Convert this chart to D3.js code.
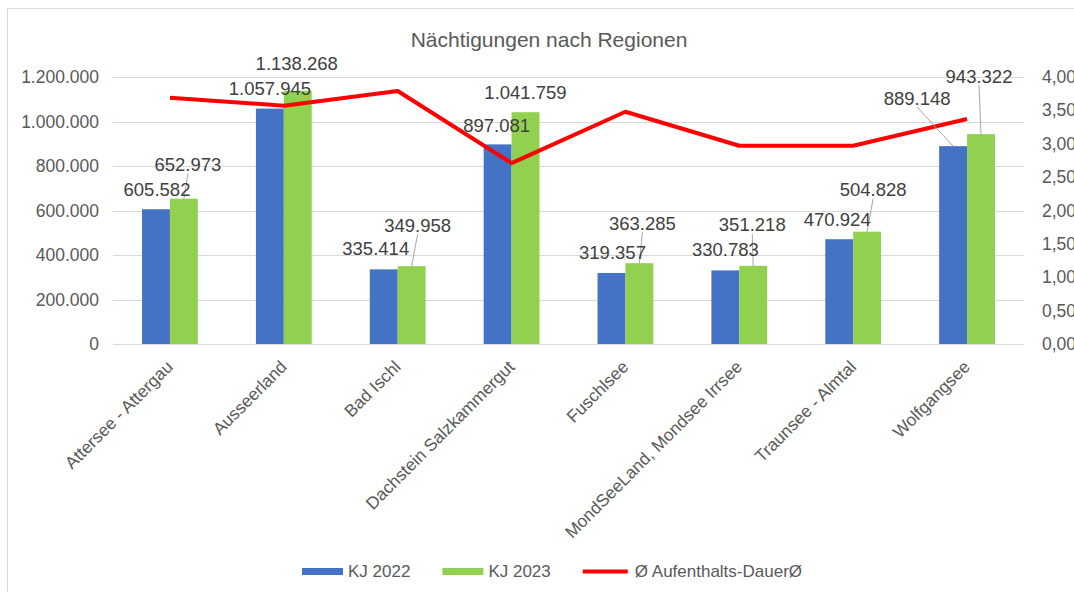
<!DOCTYPE html>
<html>
<head>
<meta charset="utf-8">
<script src="https://cdn.jsdelivr.net/npm/d3@7"></script>
<style>
  body { margin: 0; background: #fff; }
  text { font-family: "Liberation Sans", Arial, sans-serif; }
</style>
</head>
<body>
<svg id="chart" width="1074" height="592"></svg>
<script>
// data
var regions = ["Attersee - Attergau", "Ausseerland", "Bad Ischl", "Dachstein Salzkammergut",
               "Fuschlsee", "MondSeeLand, Mondsee Irrsee", "Traunsee - Almtal", "Wolfgangsee"];
var kj2022 = [605582, 1057945, 335414, 897081, 319357, 330783, 470924, 889148];
var kj2023 = [652973, 1138268, 349958, 1041759, 363285, 351218, 504828, 943322];
var dauer  = [3.69, 3.57, 3.79, 2.71, 3.48, 2.97, 2.97, 3.37];
var leftTicks  = [0, 200000, 400000, 600000, 800000, 1000000, 1200000];
var rightTicks = [0, 0.5, 1, 1.5, 2, 2.5, 3, 3.5, 4];
var seriesNames = ["KJ 2022", "KJ 2023", "Ø Aufenthalts-DauerØ"];

// label offsets from bar top (moved labels, like in excel)
var off2022 = [[1,-20],[0,-20],[-8,-21],[-1,-19],[1,-20],[0,-21],[-2,-20],[-36,-48]];
var off2023 = [[4,-34],[-1,-27],[6,-41],[0,-20],[3,-40],[-1,-41],[6,-42],[-2,-58]];

var blue = "#4472C4", green = "#92D050", red = "#FF0000";
var grid = "#d9d9d9", txt = "#595959";

var de = d3.formatLocale({decimal: ",", thousands: ".", grouping: [3], currency: ["", "€"]});
var fmtInt = de.format(",.0f");
var fmtDec = de.format(",.2f");

var svg = d3.select("#chart");

// outer frame
svg.append("rect").attr("x", 7.5).attr("y", 8.5).attr("width", 1100).attr("height", 600)
  .attr("fill", "#fff").attr("stroke", grid);

var pLeft = 113, pRight = 1024, pTop = 77, pBottom = 344;

var x0 = d3.scaleBand().domain(regions).range([pLeft, pRight]).paddingInner(0.51).paddingOuter(0.255);
var x1 = d3.scaleBand().domain([0, 1]).range([0, x0.bandwidth()]);
var y = d3.scaleLinear().domain([0, 1200000]).range([pBottom, pTop]);
var y2 = d3.scaleLinear().domain([0, 4]).range([pBottom, pTop]);

svg.append("text").attr("x", 549).attr("y", 47).attr("text-anchor", "middle")
  .attr("font-size", 21).attr("fill", txt).text("Nächtigungen nach Regionen");

// gridlines
svg.append("g").selectAll("line").data(leftTicks).enter().append("line")
  .attr("x1", pLeft).attr("x2", pRight)
  .attr("y1", function(d) { return Math.round(y(d)) + 0.5; })
  .attr("y2", function(d) { return Math.round(y(d)) + 0.5; })
  .attr("stroke", grid).attr("stroke-width", 1);

// left axis
var gl = svg.append("g").attr("transform", "translate(" + (pLeft - 14) + ",0)")
  .call(d3.axisLeft(y).tickValues(leftTicks).tickFormat(fmtInt).tickSize(0).tickPadding(0));
gl.select(".domain").remove();
gl.selectAll("text").attr("font-size", 17.5).attr("fill", txt).attr("font-family", null);

// right axis
var gr = svg.append("g").attr("transform", "translate(1042,0)")
  .call(d3.axisRight(y2).tickValues(rightTicks).tickFormat(fmtDec).tickSize(0).tickPadding(0));
gr.select(".domain").remove();
gr.selectAll("text").attr("font-size", 17.5).attr("fill", txt).attr("font-family", null);

// x axis labels
var gx = svg.append("g");
gx.selectAll("text").data(regions).enter().append("text")
  .attr("transform", function(d) { return "translate(" + (x0(d) + x0.bandwidth() / 2 + 4) + ",368) rotate(-45)"; })
  .attr("text-anchor", "end").attr("font-size", 17.3).attr("fill", txt)
  .text(function(d) { return d; });

// bars
var rows = regions.map(function(r, i) { return {region: r, vals: [kj2022[i], kj2023[i]], i: i}; });
var groups = svg.append("g").selectAll("g").data(rows).enter().append("g")
  .attr("transform", function(d) { return "translate(" + x0(d.region) + ",0)"; });
groups.selectAll("rect").data(function(d) { return d.vals.map(function(v, k) { return {k: k, v: v}; }); })
  .enter().append("rect")
  .attr("x", function(d) { return x1(d.k); })
  .attr("y", function(d) { return y(d.v); })
  .attr("width", x1.bandwidth())
  .attr("height", function(d) { return pBottom - y(d.v); })
  .attr("fill", function(d) { return d.k == 0 ? blue : green; });

// line
var line = d3.line()
  .x(function(d, i) { return x0(regions[i]) + x0.bandwidth() / 2; })
  .y(function(d) { return y2(d); });
svg.append("path").datum(dauer).attr("d", line).attr("fill", "none")
  .attr("stroke", red).attr("stroke-width", 4).attr("stroke-linejoin", "round");

// data labels + leader lines
var labels = [];
rows.forEach(function(r) {
  [kj2022, kj2023].forEach(function(ser, k) {
    var o = (k == 0 ? off2022 : off2023)[r.i];
    var bx = x0(r.region) + x1(k) + x1.bandwidth() / 2, by = y(ser[r.i]);
    labels.push({v: ser[r.i], bx: bx, by: by, lx: bx + o[0], ly: by + o[1]});
  });
});
var lg = svg.append("g");
lg.selectAll("line").data(labels.filter(function(d) { return d.by - d.ly > 28; })).enter().append("line")
  .attr("x1", function(d) { return d.lx; }).attr("y1", function(d) { return d.ly + 9; })
  .attr("x2", function(d) { return d.bx; }).attr("y2", function(d) { return d.by; })
  .attr("stroke", "#a6a6a6").attr("stroke-width", 1);
lg.selectAll("text").data(labels).enter().append("text")
  .attr("x", function(d) { return d.lx; }).attr("y", function(d) { return d.ly; })
  .attr("dy", "0.35em").attr("text-anchor", "middle")
  .attr("font-size", 18.5).attr("fill", "#404040")
  .text(function(d) { return fmtInt(d.v); });

// legend
var leg = svg.append("g");
var lx = 302;
seriesNames.forEach(function(name, i) {
  var col = [blue, green, red][i];
  if (i < 2) {
    leg.append("rect").attr("x", lx).attr("y", 568).attr("width", 41).attr("height", 7).attr("fill", col);
  } else {
    leg.append("line").attr("x1", lx).attr("x2", lx + 45).attr("y1", 571.5).attr("y2", 571.5)
      .attr("stroke", col).attr("stroke-width", 4);
  }
  var t = leg.append("text").attr("x", lx + (i < 2 ? 46 : 52)).attr("y", 571).attr("dy", "0.35em")
    .attr("font-size", 17).attr("fill", txt).text(name);
  lx = lx + (i < 2 ? 46 : 52) + t.node().getComputedTextLength() + 32;
});
</script>
</body>
</html>
